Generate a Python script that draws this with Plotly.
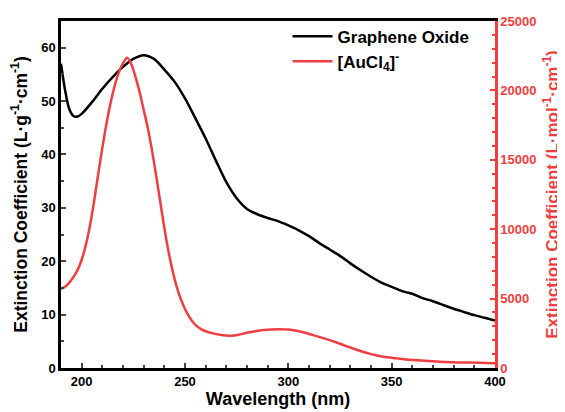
import plotly.graph_objects as go

# Graphene oxide (left axis, L g^-1 cm^-1)
go_wl = [190, 192, 194, 196, 198, 200, 205, 210, 215, 220, 225, 230, 235, 240, 245, 250,
         255, 260, 265, 270, 275, 280, 285, 290, 295, 300, 305, 310, 315, 320, 325, 330,
         335, 340, 345, 350, 355, 358, 360, 365, 370, 375, 380, 385, 390, 395, 400]
go_val = [57.0, 52.0, 48.5, 47.2, 47.1, 47.6, 49.8, 52.3, 54.5, 56.4, 57.9, 58.6, 57.9, 55.9, 53.6, 50.5,
          46.8, 43.0, 38.8, 34.8, 31.8, 29.8, 28.8, 28.1, 27.5, 26.7, 25.8, 24.7, 23.4, 22.2, 21.0, 19.6,
          18.3, 17.1, 16.0, 15.2, 14.4, 14.1, 13.9, 13.1, 12.5, 11.8, 11.1, 10.5, 9.9, 9.4, 8.9]

# [AuCl4]- (right axis, L mol^-1 cm^-1)
au_wl = [190, 192, 194, 196, 198, 200, 202, 204, 206, 208, 210, 212, 214, 216, 218, 220, 222,
         224, 226, 228, 230, 232, 234, 236, 238, 240, 242, 244, 246, 248, 250, 252, 254, 256,
         258, 260, 263, 267, 272, 276, 280, 284, 288, 292, 296, 300, 304, 308, 312, 316, 320,
         324, 328, 332, 336, 340, 344, 348, 352, 356, 360, 368, 376, 384, 392, 400]
au_val = [5700, 5850, 6150, 6550, 7050, 7800, 8850, 10250, 12000, 13950, 15850, 17600, 19100, 20350, 21300, 21950, 22350,
          21900, 21000, 19900, 18600, 17300, 15700, 13900, 12000, 10100, 8400, 7000, 5850, 4950, 4250, 3700, 3280, 2980,
          2780, 2650, 2510, 2390, 2320, 2400, 2540, 2650, 2730, 2780, 2800, 2770, 2680, 2540, 2370, 2190, 2010,
          1800, 1580, 1370, 1170, 1000, 870, 770, 700, 630, 575, 500, 430, 400, 380, 340]

RED = "#EF3E42"
FONT = "Liberation Sans, Arial, sans-serif"

fig = go.Figure()
fig.add_trace(go.Scatter(x=go_wl, y=go_val, mode="lines", name="Graphene Oxide",
                         line=dict(color="black", width=2.5, shape="spline", smoothing=0.8)))
fig.add_trace(go.Scatter(x=au_wl, y=au_val, mode="lines", name="[AuCl<sub>4</sub>]<sup>-</sup>",
                         yaxis="y2",
                         line=dict(color=RED, width=2.5, shape="spline", smoothing=0.8)))

fig.update_layout(
    width=557, height=404,
    margin=dict(l=53, r=70, t=12, b=44),
    paper_bgcolor="white", plot_bgcolor="white",
    font=dict(family=FONT, size=12, color="black", weight="bold"),
    showlegend=True,
    legend=dict(x=0.522, y=1.004, xanchor="left", yanchor="top",
                bgcolor="rgba(0,0,0,0)", font=dict(size=17, weight="bold"),
                tracegroupgap=0, itemwidth=40),
    xaxis=dict(range=[190, 400], dtick=50, tick0=0, ticks="inside", ticklen=5, tickwidth=2,
               showline=True, linewidth=2.5, linecolor="black", mirror=True,
               showgrid=False, zeroline=False, automargin=False,
               minor=dict(dtick=10, ticks="inside", ticklen=3, tickwidth=1.5, showgrid=False),
               tickfont=dict(size=13, weight="bold"),
               title=dict(text="Wavelength (nm)", font=dict(size=18, weight="bold"), standoff=2)),
    yaxis=dict(range=[0, 65], dtick=10, ticks="inside", ticklen=5, tickwidth=2,
               showline=True, linewidth=2.5, linecolor="black",
               showgrid=False, zeroline=False, automargin=False,
               minor=dict(dtick=5, ticks="inside", ticklen=3, tickwidth=1.5, showgrid=False),
               tickfont=dict(size=13, weight="bold"),
               title=dict(text="Extinction Coefficient (L·g<sup>-1</sup>·cm<sup>-1</sup>)",
                          font=dict(size=17.5, weight="bold"), standoff=10)),
    yaxis2=dict(range=[0, 25000], dtick=5000, overlaying="y", side="right",
                ticks="inside", ticklen=5, tickwidth=2, tickcolor=RED, tickformat="d",
                showline=True, linewidth=2.5, linecolor=RED,
                showgrid=False, zeroline=False, automargin=False,
                minor=dict(dtick=1000, ticks="inside", ticklen=3, tickwidth=1.5, tickcolor=RED, showgrid=False),
                tickfont=dict(size=13, color=RED, weight="bold"),
                title=dict(text="Extinction Coefficient (L·mol<sup>-1</sup>·cm<sup>-1</sup>)",
                           font=dict(size=17, color=RED, weight="bold"), standoff=11)),
)

fig.write_html("out.html")
